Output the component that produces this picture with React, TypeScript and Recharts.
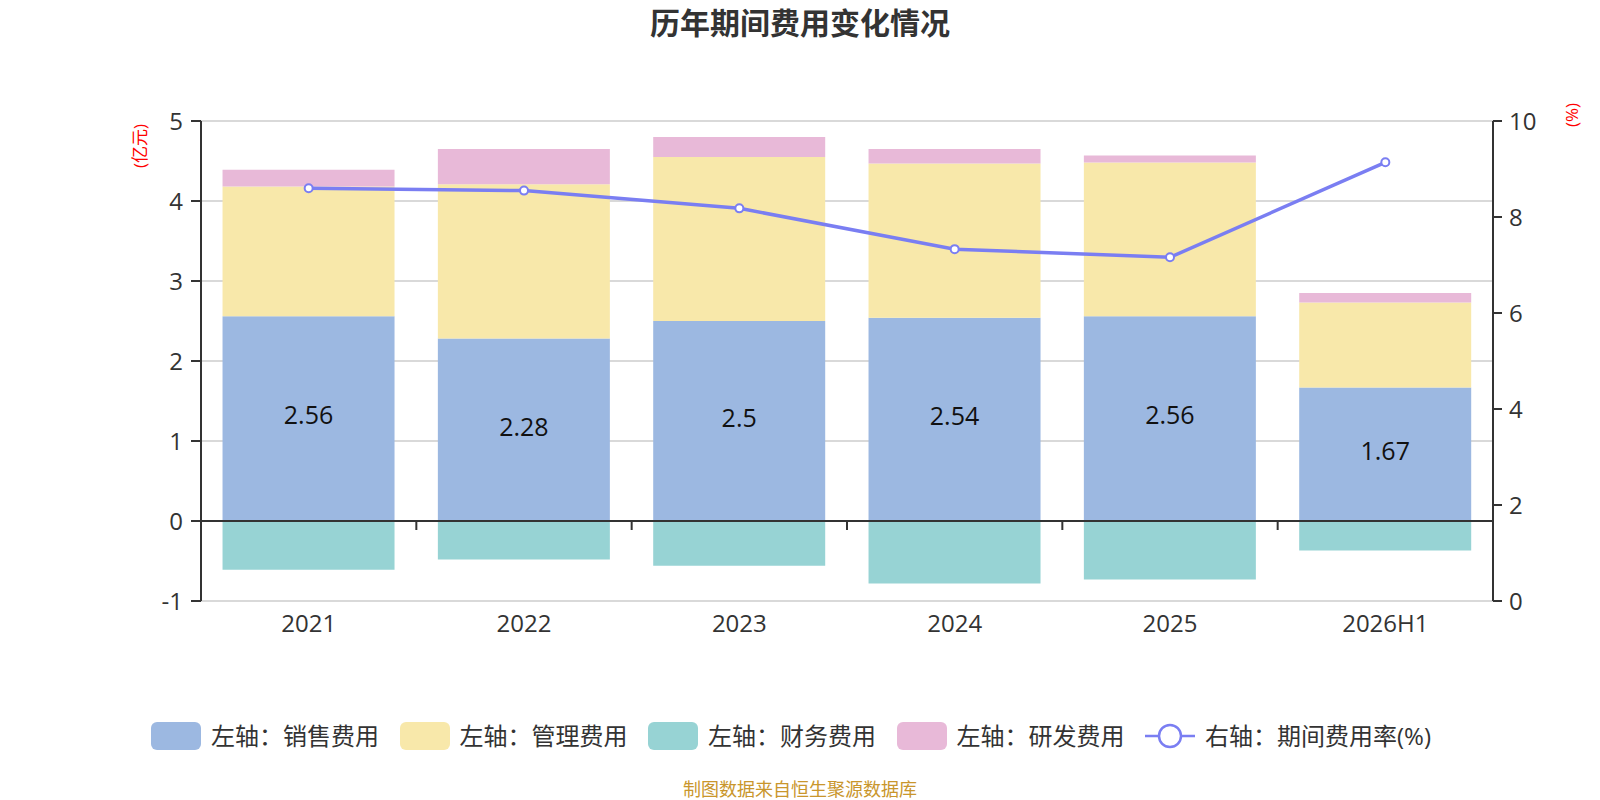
import React from 'react';
import {
  ComposedChart,
  Bar,
  Line,
  XAxis,
  YAxis,
  CartesianGrid,
  ReferenceLine,
  LabelList,
} from 'recharts';

const categories = ['2021', '2022', '2023', '2024', '2025', '2026H1'];
const salesExpense = [2.56, 2.28, 2.5, 2.54, 2.56, 1.67];
const adminExpense = [1.62, 1.93, 2.05, 1.93, 1.92, 1.06];
const financeExpense = [-0.61, -0.48, -0.56, -0.78, -0.73, -0.37];
const rdExpense = [0.21, 0.44, 0.25, 0.18, 0.09, 0.12];
const expenseRate = [8.6, 8.55, 8.18, 7.33, 7.16, 9.14];
const leftTicks = [-1, 0, 1, 2, 3, 4, 5];
const rightTicks = [0, 2, 4, 6, 8, 10];

const COLORS = {
  sales: '#9cb8e1',
  admin: '#f8e8aa',
  finance: '#97d3d4',
  rd: '#e8b9d8',
  rate: '#7a7ef2',
};

const legendItems = [
  { name: '左轴：销售费用', color: COLORS.sales, type: 'rect' },
  { name: '左轴：管理费用', color: COLORS.admin, type: 'rect' },
  { name: '左轴：财务费用', color: COLORS.finance, type: 'rect' },
  { name: '左轴：研发费用', color: COLORS.rd, type: 'rect' },
  { name: '右轴：期间费用率(%)', color: COLORS.rate, type: 'line' },
];

const data = categories.map((c, i) => ({
  category: c,
  sales: salesExpense[i],
  admin: adminExpense[i],
  finance: financeExpense[i],
  rd: rdExpense[i],
  rate: expenseRate[i],
}));

const FONT = "'Open Sans', 'Noto Sans CJK SC', sans-serif";

const ZeroLine = (props: any) => {
  const { x1, x2, y1 } = props;
  const n = categories.length;
  const step = (x2 - x1) / n;
  const ticks = [];
  for (let k = 1; k < n; k++) {
    const x = x1 + k * step;
    ticks.push(<line key={k} x1={x} x2={x} y1={y1} y2={y1 + 9} stroke="#333" strokeWidth={2} />);
  }
  return (
    <g>
      <line x1={x1} x2={x2} y1={y1} y2={y1} stroke="#333" strokeWidth={2} />
      {ticks}
    </g>
  );
};

const LeftUnit = (props: any) => {
  const vb = props.viewBox || {};
  const x = vb.x - 2;
  const y = vb.y + 25;
  return (
    <text x={x} y={y} transform={`rotate(-90 ${x} ${y})`} textAnchor="middle" dominantBaseline="central" fill="#ff0000" fontSize={17} fontFamily={FONT}>
      (亿元)
    </text>
  );
};

const RightUnit = (props: any) => {
  const vb = props.viewBox || {};
  const x = vb.x + 78;
  const y = vb.y - 6;
  return (
    <text x={x} y={y} transform={`rotate(-90 ${x} ${y})`} textAnchor="middle" dominantBaseline="central" fill="#ff0000" fontSize={17} fontFamily={FONT}>
      (%)
    </text>
  );
};

export default function App() {
  return (
    <div style={{ position: 'absolute', left: 0, top: 0, width: 1600, height: 800, background: '#fff', fontFamily: FONT }}>
      <div style={{ position: 'absolute', left: 0, width: 1600, top: 4, textAlign: 'center', fontSize: 30, fontWeight: 'bold', color: '#333', lineHeight: '38px' }}>
        历年期间费用变化情况
      </div>
      <ComposedChart
        width={1600}
        height={800}
        data={data}
        stackOffset="sign"
        barCategoryGap="10%"
        margin={{ top: 121, right: 47, bottom: 159, left: 141 }}
      >
        <CartesianGrid yAxisId="left" vertical={false} stroke="#cccccc" strokeWidth={1.5} />
        <XAxis
          dataKey="category"
          axisLine={false}
          tickLine={false}
          tickSize={6}
          tickMargin={8}
          height={40}
          interval={0}
          tick={{ fontSize: 24, fill: '#333', fontFamily: FONT }}
        />
        <YAxis
          yAxisId="left"
          orientation="left"
          width={60}
          domain={[-1, 5]}
          ticks={leftTicks}
          interval={0}
          allowDataOverflow
          axisLine={{ stroke: '#333', strokeWidth: 2 }}
          tickLine={{ stroke: '#333', strokeWidth: 2 }}
          tickSize={10}
          tickMargin={8}
          tick={{ fontSize: 24, fill: '#333', fontFamily: FONT }}
          label={<LeftUnit />}
        />
        <YAxis
          yAxisId="right"
          orientation="right"
          width={60}
          domain={[0, 10]}
          ticks={rightTicks}
          interval={0}
          allowDataOverflow
          axisLine={{ stroke: '#333', strokeWidth: 2 }}
          tickLine={{ stroke: '#333', strokeWidth: 2 }}
          tickSize={9}
          tickMargin={7}
          tick={{ fontSize: 24, fill: '#333', fontFamily: FONT }}
          label={<RightUnit />}
        />
        <ReferenceLine yAxisId="left" y={0} shape={ZeroLine} />
        <Bar yAxisId="left" dataKey="sales" stackId="a" fill={COLORS.sales} isAnimationActive={false}>
          <LabelList dataKey="sales" position="center" fill="#111" fontSize={25} fontFamily={FONT} dy={-3} />
        </Bar>
        <Bar yAxisId="left" dataKey="admin" stackId="a" fill={COLORS.admin} isAnimationActive={false} />
        <Bar yAxisId="left" dataKey="finance" stackId="a" fill={COLORS.finance} isAnimationActive={false} />
        <Bar yAxisId="left" dataKey="rd" stackId="a" fill={COLORS.rd} isAnimationActive={false} />
        <Line
          yAxisId="right"
          dataKey="rate"
          type="linear"
          stroke={COLORS.rate}
          strokeWidth={3.5}
          dot={{ r: 4, fill: '#fff', stroke: COLORS.rate, strokeWidth: 2 }}
          activeDot={false}
          isAnimationActive={false}
        />
      </ComposedChart>
      <div style={{ position: 'absolute', left: 151, top: 721, height: 30, display: 'flex', alignItems: 'center', gap: 20.5 }}>
        {legendItems.map((it) => (
          <div key={it.name} style={{ display: 'flex', alignItems: 'center' }}>
            {it.type === 'rect' ? (
              <div style={{ width: 50, height: 28, borderRadius: 6, background: it.color }} />
            ) : (
              <svg width={50} height={28}>
                <line x1={0} x2={50} y1={14} y2={14} stroke={it.color} strokeWidth={2.5} />
                <circle cx={25} cy={14} r={11} fill="#fff" stroke={it.color} strokeWidth={2.5} />
              </svg>
            )}
            <span style={{ marginLeft: 10, fontSize: 24, color: '#333', lineHeight: '30px', whiteSpace: 'nowrap' }}>{it.name}</span>
          </div>
        ))}
      </div>
      <div style={{ position: 'absolute', left: 0, width: 1600, top: 776, textAlign: 'center', fontSize: 18, color: '#c9962c', lineHeight: '26px' }}>
        制图数据来自恒生聚源数据库
      </div>
    </div>
  );
}
